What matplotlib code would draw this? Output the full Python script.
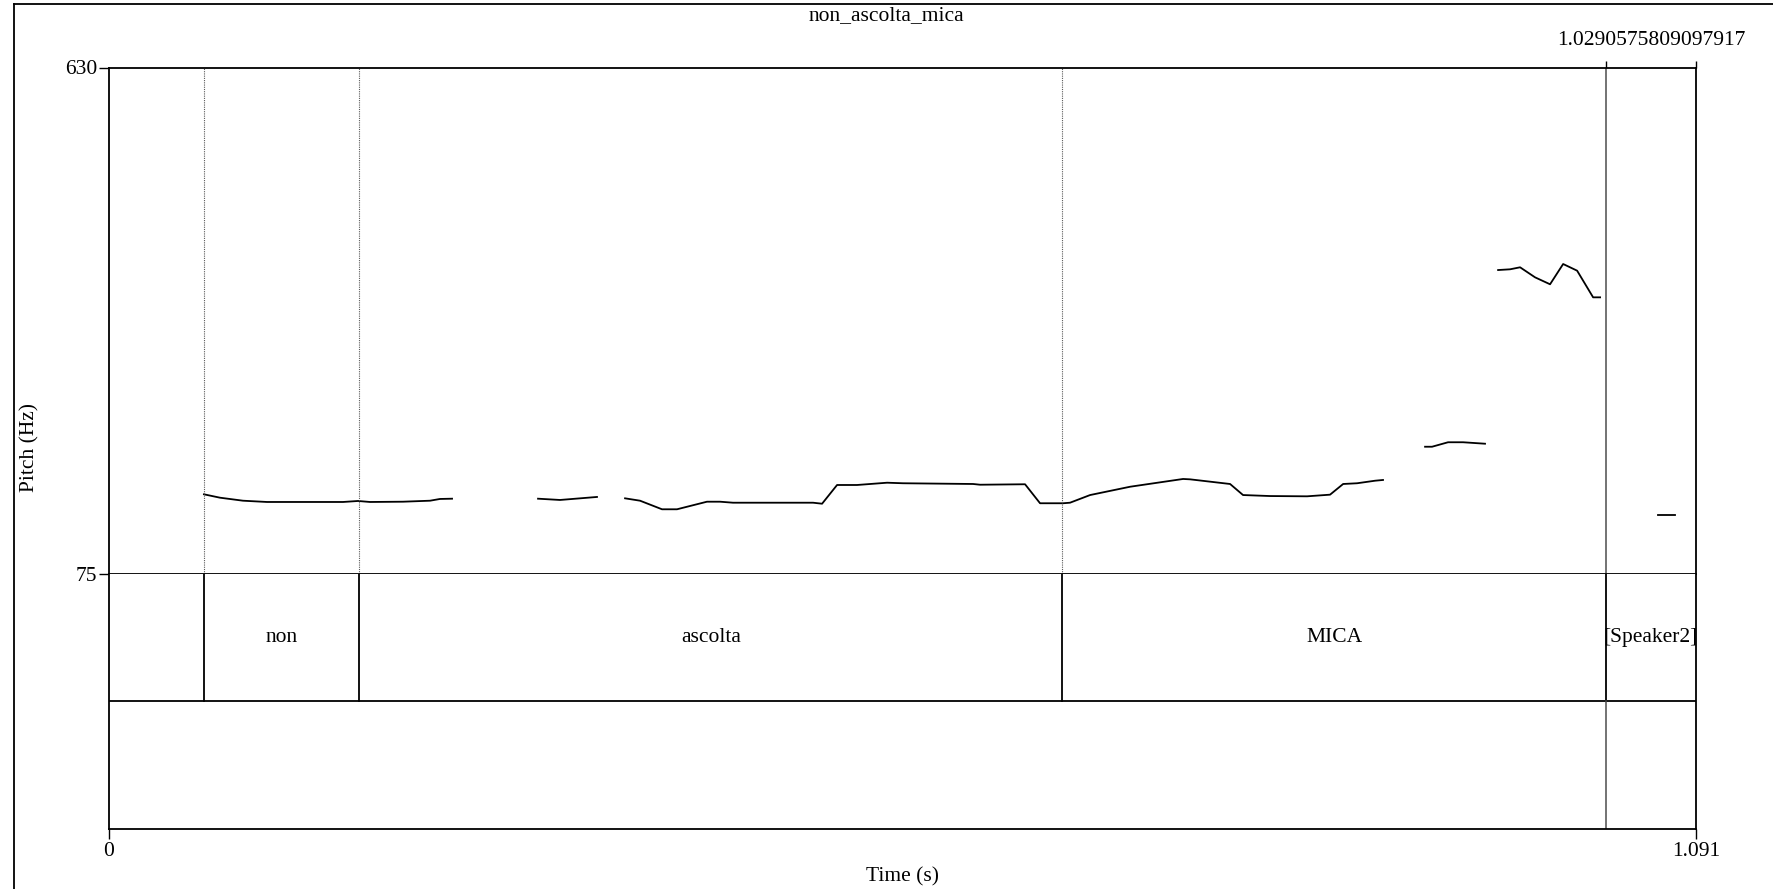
import numpy as np
import matplotlib
matplotlib.use('Agg')
import matplotlib.pyplot as plt
from matplotlib.lines import Line2D

plt.rcParams['font.family'] = ['Liberation Serif', 'DejaVu Serif']
FS = 15.5

title = 'non_ascolta_mica'
t_end = 1.091
f_min, f_max = 75, 630

# TextGrid tier 1 (interval boundaries and labels)
bounds = [0.0656, 0.1722, 0.6555, 1.0290575809097917]
labels = ['non', 'ascolta', 'MICA', '[Speaker2]']
top_label = '1.0290575809097917'

# pitch contour, voiced stretches (time s, F0 Hz)
seg_t = [
    [0.0656, 0.0766, 0.0924, 0.1089, 0.1612, 0.1715, 0.1797, 0.2024, 0.2210, 0.2278, 0.2361],
    [0.2952, 0.3103, 0.3357],
    [0.3550, 0.3653, 0.3804, 0.3907, 0.4113, 0.4203, 0.4292, 0.4842, 0.4904, 0.5007,
     0.5144, 0.5351, 0.5460, 0.5942, 0.5990, 0.6299, 0.6402, 0.6560, 0.6608, 0.6746,
     0.7021, 0.7385, 0.7433, 0.7708, 0.7797, 0.7983, 0.8237, 0.8395, 0.8485, 0.8581,
     0.8705, 0.8759],
    [0.9048, 0.9096, 0.9206, 0.9309, 0.9460],
    [0.9550, 0.9632, 0.9701, 0.9804, 0.9907, 0.9997, 1.0093, 1.0203, 1.0251],
    [1.0649, 1.0766],
]
seg_f = [
    [162.6, 158.9, 155.6, 154.2, 154.2, 155.3, 154.2, 154.5, 155.6, 157.5, 157.8],
    [157.8, 156.4, 159.7],
    [158.2, 155.6, 146.2, 146.2, 154.5, 154.5, 153.4, 153.4, 152.3, 172.8,
     172.8, 175.3, 174.7, 173.9, 173.1, 173.6, 152.8, 152.8, 153.4, 161.8,
     170.9, 179.4, 179.0, 173.9, 161.8, 160.7, 160.4, 162.2, 173.9, 174.7,
     177.5, 178.3],
    [214.7, 214.7, 219.6, 219.6, 218.0],
    [408.2, 409.0, 411.2, 400.2, 392.6, 414.8, 407.5, 378.3, 378.3],
    [139.9, 139.9],
]

W, H = 1773, 889
fig = plt.figure(figsize=(W / 100, H / 100), dpi=100)

def fx(px):
    return px / W

def fy(py):
    return 1 - py / H

left, right = 108.5, 1696
top, mid, bottom = 67.5, 574.3, 828.5

ax = fig.add_axes([fx(left), fy(mid), fx(right - left), (mid - top) / H])
ax2 = fig.add_axes([fx(left), fy(bottom), fx(right - left), (bottom - mid) / H])

# pitch panel
for ts, fs in zip(seg_t, seg_f):
    ax.plot(ts, fs, color='black', lw=1.3)
for b in bounds[:-1]:
    ax.axvline(b, color='0.35', lw=0.8, ls=(0, (1, 1)))
ax.axvline(bounds[-1], color='0.3', lw=1.1)
ax.set_xlim(0, t_end)
ax.set_ylim(f_min, f_max)
ax.set_yticks([f_min, f_max])
ax.set_yticklabels([str(f_min), str(f_max)], fontsize=FS)
ax.set_xticks([bounds[-1], t_end])
ax.tick_params(axis='x', bottom=False, top=True, labelbottom=False, length=5, width=1)
ax.tick_params(axis='y', length=7, width=1, pad=1)
for s in ax.spines.values():
    s.set_linewidth(1.3)
ax.text((bounds[-1] + t_end) / 2, 1.035, top_label, transform=ax.get_xaxis_transform(),
        ha='center', va='bottom', fontsize=FS)

# tier panel
ax2.set_xlim(0, t_end)
ax2.set_ylim(0, 2)
ax2.axhline(1, color='black', lw=1.3)
for b in bounds:
    ax2.plot([b, b], [1, 2], color='black', lw=1.3)
ax2.plot([bounds[-1], bounds[-1]], [0, 1], color='0.3', lw=1.1)
edges = bounds + [t_end]
for i, lab in enumerate(labels):
    ax2.text((edges[i] + edges[i + 1]) / 2, 1.5, lab, ha='center', va='center', fontsize=FS)
ax2.set_yticks([])
ax2.set_xticks([0, t_end])
ax2.set_xticklabels(['0', '1.091'], fontsize=FS)
ax2.tick_params(axis='x', length=7, width=1, pad=3)
for s in ax2.spines.values():
    s.set_linewidth(1.3)
ax2.spines['top'].set_visible(False)

fig.text(fx(886), fy(16), title, ha='center', va='center', fontsize=FS)
fig.text(fx(902), fy(877), 'Time (s)', ha='center', va='center', fontsize=FS)
fig.text(fx(30), fy(448), 'Pitch (Hz)', ha='center', va='center', rotation=90, fontsize=FS)

# outer frame of the picture window
fig.add_artist(Line2D([fx(13.5), fx(13.5)], [0, fy(3.5)], color='black', lw=1.3))
fig.add_artist(Line2D([fx(13.5), 1], [fy(3.5), fy(3.5)], color='black', lw=1.3))

fig.savefig('out.png', dpi=100)
